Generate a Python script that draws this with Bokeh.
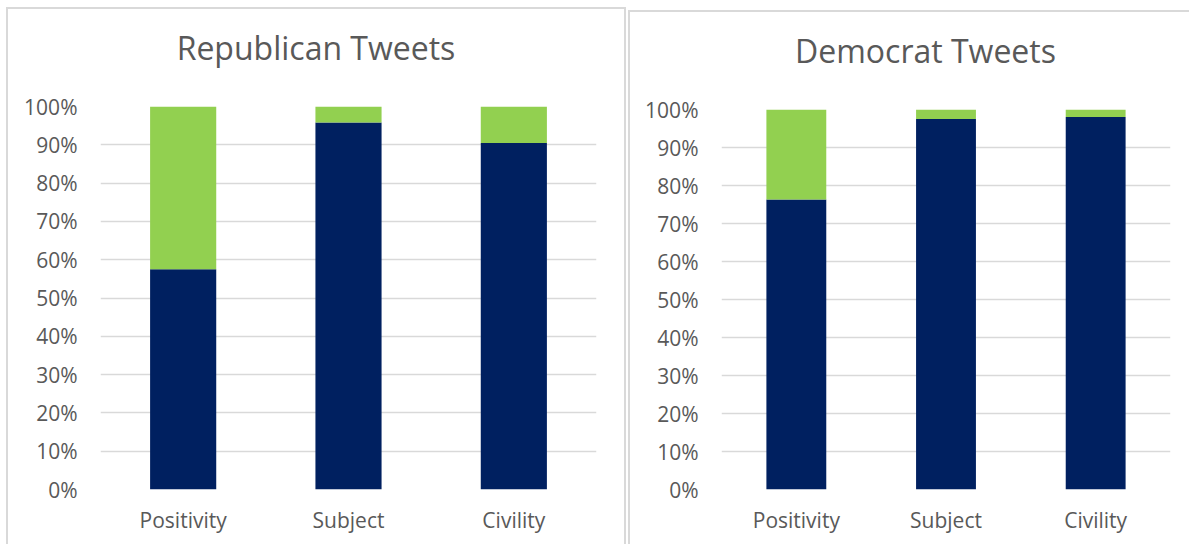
from bokeh.plotting import figure
from bokeh.layouts import row, column
from bokeh.models import Range1d, FixedTicker, NumeralTickFormatter, ColumnDataSource, Div
from bokeh.embed import file_html
from bokeh.resources import INLINE

categories = ["Positivity", "Subject", "Civility"]
rep_navy = [0.575, 0.958, 0.905]
rep_green = [0.425, 0.042, 0.095]
dem_navy = [0.763, 0.975, 0.980]
dem_green = [0.237, 0.025, 0.020]
y_ticks = [0.0, 0.1, 0.2, 0.3, 0.4, 0.5, 0.6, 0.7, 0.8, 0.9, 1.0]

NAVY = "#002060"
GREEN = "#92D050"
TEXT = "#595959"
GRID = "#d9d9d9"
FONT = "Open Sans"
TITLE_H = 80


def make(title, navy, green, w, h, mb, title_shift, margin):
    src = ColumnDataSource(dict(cat=categories, navy=navy, green=green))
    p = figure(x_range=categories, y_range=Range1d(0, 1), width=w, height=h - TITLE_H,
               output_backend="svg", toolbar_location=None,
               min_border_left=mb[0], min_border_right=mb[1],
               min_border_top=mb[2], min_border_bottom=mb[3])
    p.vbar_stack(["navy", "green"], x="cat", width=0.4, color=[NAVY, GREEN],
                 line_color=None, source=src)
    p.outline_line_color = None
    p.xgrid.grid_line_color = None
    p.ygrid.grid_line_color = GRID
    p.ygrid.grid_line_width = 1.5
    p.yaxis.ticker = FixedTicker(ticks=y_ticks)
    p.yaxis.formatter = NumeralTickFormatter(format="0%")
    for ax in (p.xaxis[0], p.yaxis[0]):
        ax.axis_line_color = None
        ax.major_tick_line_color = None
        ax.minor_tick_line_color = None
        ax.major_tick_out = 0
        ax.major_tick_in = 0
        ax.minor_tick_out = 0
        ax.major_label_text_font = FONT
        ax.major_label_text_font_size = "21px"
        ax.major_label_text_color = TEXT
    p.yaxis.major_label_standoff = 23
    p.xaxis.major_label_standoff = 16
    p.x_range.range_padding = 0.0

    head = Div(
        text=(f"<div style=\"width:{w}px; text-align:center; padding-top:23px; "
              f"margin-left:{title_shift}px; font-family:'Open Sans'; font-size:32px; "
              f"line-height:32px; color:{TEXT}; white-space:nowrap;\">{title}</div>"),
        width=w, height=TITLE_H, margin=0)
    col = column(head, p, spacing=0)
    col.styles = {"box-shadow": "0 0 0 2px #d9d9d9", "background": "white"}
    col.margin = margin
    return col


c1 = make("Republican Tweets", rep_navy, rep_green, 616, 535, (92, 28, 17, 55), 0,
          (9, 0, 0, 8))
c2 = make("Democrat Tweets", dem_navy, dem_green, 559, 532, (91, 19, 17, 55), 16,
          (12, 0, 0, 6))

layout = row(c1, c2)
open("out.html", "w").write(file_html(layout, INLINE))
